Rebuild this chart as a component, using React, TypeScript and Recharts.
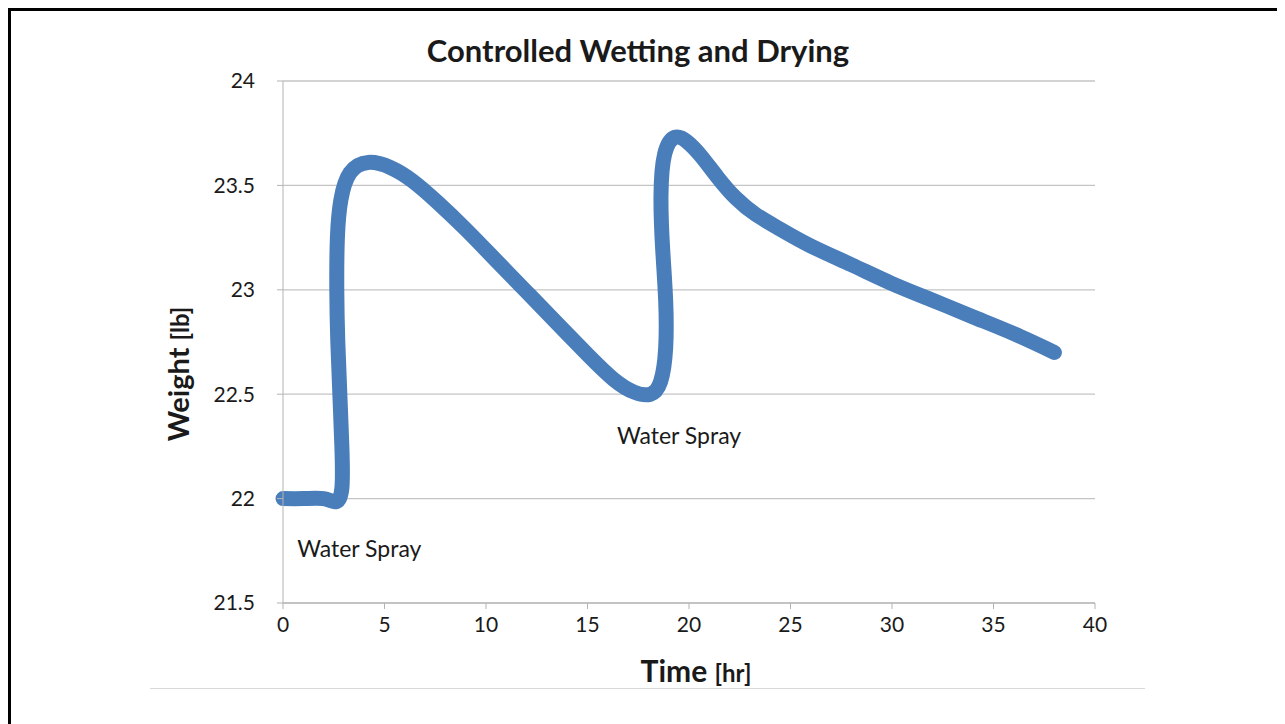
import { LineChart, Line, XAxis, YAxis, CartesianGrid, ReferenceDot, Customized } from 'recharts';

// hours since start of test
const timeHr = [
  0, 1, 2, 2.6, 2.9, 2.9, 2.8, 2.7, 2.65, 2.68, 2.85, 3.3, 4.2, 5.3, 6.4, 7.6, 9, 10.5, 12, 13.5, 15, 16.3,
  17.3, 18.1, 18.6, 18.85, 18.85, 18.7, 18.62, 18.8, 19.3, 19.9, 20.6, 21.4, 22.3, 23.3, 24.5, 26, 28, 30,
  32, 34, 36, 38,
];
// sample weight in lb
const weightLb = [
  22, 22, 22, 21.985, 22.05, 22.25, 22.5, 22.75, 23.0, 23.25, 23.43, 23.56, 23.61, 23.585, 23.52, 23.42, 23.29,
  23.14, 22.99, 22.84, 22.69, 22.57, 22.51, 22.5, 22.56, 22.72, 22.95, 23.2, 23.45, 23.65, 23.73, 23.71, 23.64,
  23.54, 23.44, 23.36, 23.29, 23.21, 23.12, 23.03, 22.95, 22.87, 22.79, 22.7,
];

const xTicks = [0, 5, 10, 15, 20, 25, 30, 35, 40];
const yTicks = [21.5, 22, 22.5, 23, 23.5, 24];

const noteLabels = ['Water Spray', 'Water Spray'];
const noteX = [0.7, 16.45];
const noteY = [21.76, 22.3];

const data = timeHr.map((t, i) => ({ time: t, weight: weightLb[i] }));

const FONT = 'Lato, "Open Sans", sans-serif';
const TEXT = '#1a1a1a';
const AXIS = '#b3b3b3';

function Title() {
  return (
    <text x={638} y={62} textAnchor="middle" fontFamily={FONT} fontWeight={700} fontSize={31} fill={TEXT}>
      Controlled Wetting and Drying
    </text>
  );
}

export default function App() {
  return (
    <div
      style={{
        position: 'relative',
        width: 1277,
        height: 716,
        borderTop: '3px solid #000',
        borderLeft: '3px solid #000',
        boxSizing: 'border-box',
      }}
    >
      <div style={{ position: 'absolute', left: -11, top: -11 }}>
        <LineChart
          width={1285}
          height={724}
          data={data}
          margin={{ top: 81, right: 190, bottom: 81, left: 223 }}
        >
          <CartesianGrid vertical={false} stroke="#c4c4c4" strokeWidth={1.3} />
          <XAxis
            dataKey="time"
            type="number"
            domain={[0, 40]}
            ticks={xTicks}
            interval={0}
            height={40}
            stroke={AXIS}
            tickSize={6}
            tickMargin={8}
            tick={{ fill: TEXT, fontSize: 21, fontFamily: FONT }}
            label={() => (
              <text x={696} y={682} textAnchor="middle" fontFamily={FONT} fontWeight={700} fill={TEXT}>
                <tspan fontSize={30}>Time </tspan>
                <tspan fontSize={24}>[hr]</tspan>
              </text>
            )}
          />
          <YAxis
            type="number"
            domain={[21.5, 24]}
            ticks={yTicks}
            interval={0}
            width={60}
            stroke={AXIS}
            tickSize={6}
            tickMargin={22}
            tick={{ fill: TEXT, fontSize: 21, fontFamily: FONT }}
            label={() => (
              <text
                x={189}
                y={374}
                transform="rotate(-90 189 374)"
                textAnchor="middle"
                fontFamily={FONT}
                fontWeight={700}
                fill={TEXT}
              >
                <tspan fontSize={29}>Weight </tspan>
                <tspan fontSize={24}>[lb]</tspan>
              </text>
            )}
          />
          {noteLabels.map((label, i) => (
            <ReferenceDot
              key={i}
              x={noteX[i]}
              y={noteY[i]}
              r={0}
              fill="none"
              stroke="none"
              label={{ value: label, position: 'right', offset: 0, fill: TEXT, fontSize: 23, fontFamily: FONT }}
            />
          ))}
          <Line
            dataKey="weight"
            type="natural"
            stroke="#4a7ebb"
            strokeWidth={15}
            strokeLinecap="round"
            strokeLinejoin="round"
            dot={false}
            activeDot={false}
            isAnimationActive={false}
          />
          <Customized component={Title} />
        </LineChart>
      </div>
      <div
        style={{
          position: 'absolute',
          left: 139,
          top: 677,
          width: 995,
          height: 1,
          background: '#d9d9d9',
        }}
      />
    </div>
  );
}
